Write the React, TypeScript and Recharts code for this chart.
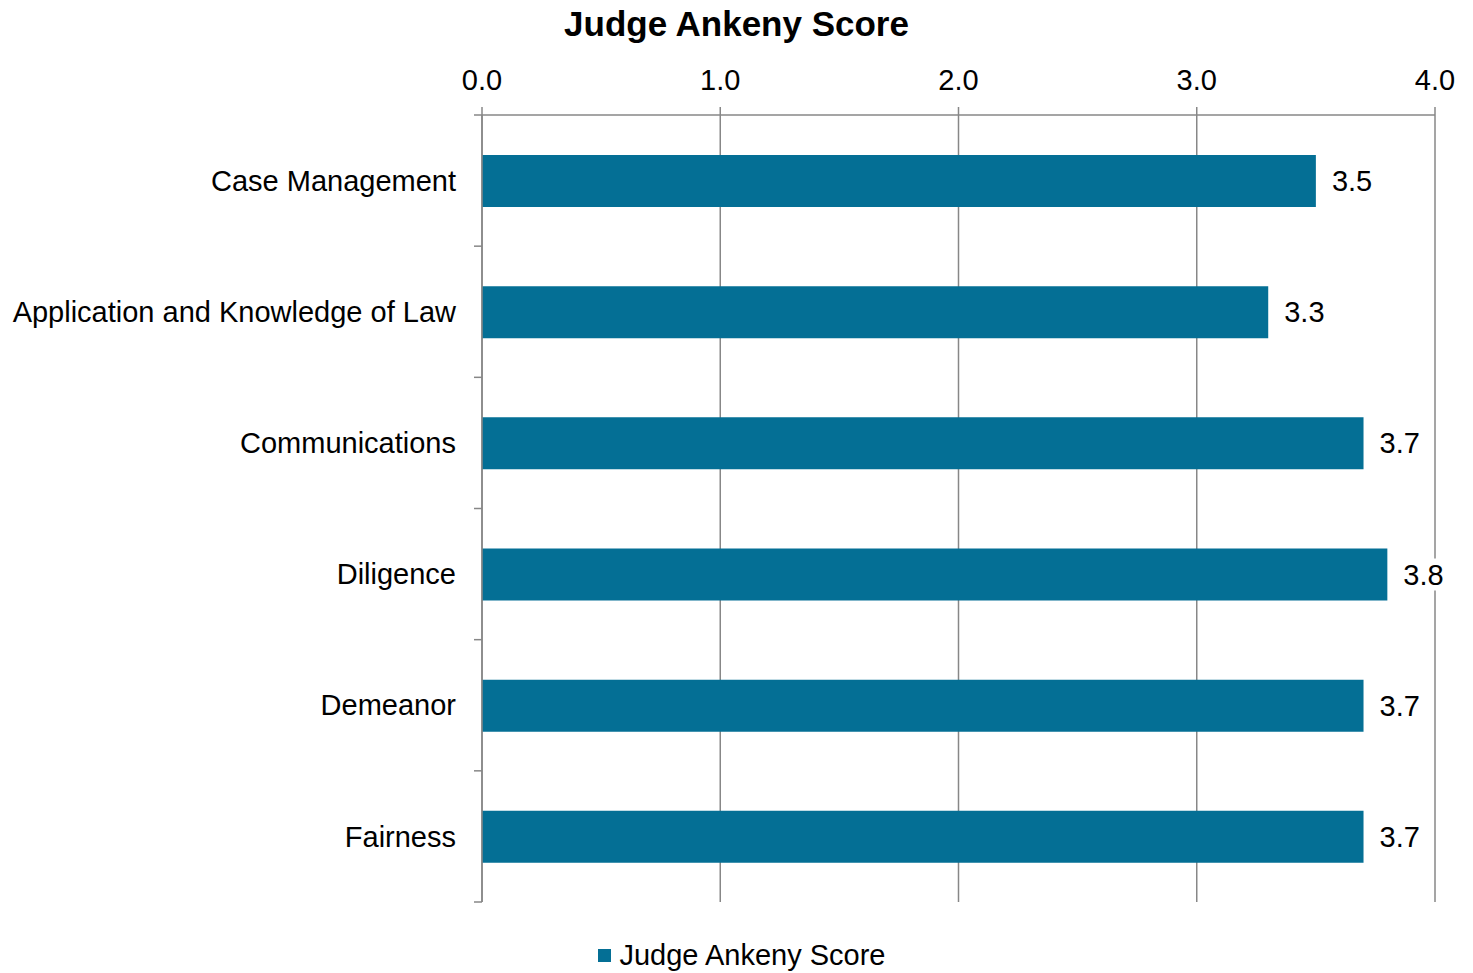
import {
  BarChart,
  Bar,
  XAxis,
  YAxis,
  CartesianGrid,
  Legend,
  LabelList,
} from 'recharts'

const categories = [
  'Case Management',
  'Application and Knowledge of Law',
  'Communications',
  'Diligence',
  'Demeanor',
  'Fairness',
]
const scores = [3.5, 3.3, 3.7, 3.8, 3.7, 3.7]
const xTicks = [0, 1, 2, 3, 4]

const seriesName = 'Judge Ankeny Score'
const font = '"Liberation Sans", Arial, sans-serif'
const gridColor = '#878787'
const barColor = '#046f95'
const fontSize = 29
const labelGap = 26
const tickLen = 8

const data = categories.map((name, i) => ({ name, score: scores[i] }))

function ValueLabel(props: any) {
  const { x, y, width, height, value } = props
  const text = Number(value).toFixed(1)
  const tx = x + width + 16
  const ty = y + height / 2
  return (
    <g>
      <rect x={tx - 3} y={ty - 16} width={46} height={32} fill="#fff" />
      <text
        x={tx}
        y={ty}
        dy="0.35em"
        fontSize={fontSize}
        fontFamily={font}
        fill="#000"
      >
        {text}
      </text>
    </g>
  )
}

// category label plus the small tick marks between categories
function CategoryTick(props: any) {
  const { x, y, payload, index } = props
  const axisX = x + labelGap
  const half = payload.offset || 0
  const last = index === categories.length - 1
  return (
    <g>
      <line
        x1={axisX - tickLen}
        x2={axisX}
        y1={y - half}
        y2={y - half}
        stroke={gridColor}
        strokeWidth={1.5}
      />
      {last && (
        <line
          x1={axisX - tickLen}
          x2={axisX}
          y1={y + half}
          y2={y + half}
          stroke={gridColor}
          strokeWidth={1.5}
        />
      )}
      <text
        x={x}
        y={y}
        dy="0.35em"
        textAnchor="end"
        fontSize={fontSize}
        fontFamily={font}
        fill="#000"
      >
        {payload.value}
      </text>
    </g>
  )
}

function LegendBox() {
  return (
    <div
      style={{
        display: 'flex',
        justifyContent: 'center',
        alignItems: 'center',
        paddingLeft: 11,
        fontFamily: font,
        fontSize,
        color: '#000',
        lineHeight: '36px',
      }}
    >
      <span
        style={{
          display: 'inline-block',
          width: 13,
          height: 13,
          background: barColor,
          marginRight: 8,
        }}
      />
      <span>{seriesName}</span>
    </div>
  )
}

export default function App() {
  return (
    <div
      style={{
        position: 'absolute',
        left: 0,
        top: 0,
        width: 1473,
        height: 973,
        background: '#fff',
        fontFamily: font,
      }}
    >
      <div
        style={{
          position: 'absolute',
          top: 3,
          left: 0,
          width: 1473,
          textAlign: 'center',
          fontSize: 35,
          fontWeight: 'bold',
          lineHeight: '42px',
        }}
      >
        {seriesName}
      </div>
      <BarChart
        width={1473}
        height={973}
        data={data}
        layout="vertical"
        margin={{ top: 60, right: 38, bottom: 35, left: 0 }}
      >
        <CartesianGrid horizontal={false} stroke={gridColor} strokeWidth={1.5} />
        <XAxis
          type="number"
          orientation="top"
          domain={[0, 4]}
          ticks={xTicks}
          tickFormatter={(v: number) => v.toFixed(1)}
          height={55}
          tickSize={tickLen}
          tickMargin={17}
          tick={{ fill: '#000', fontSize, fontFamily: font }}
          axisLine={{ stroke: gridColor, strokeWidth: 1.5 }}
          tickLine={{ stroke: gridColor, strokeWidth: 1.5 }}
        />
        <YAxis
          type="category"
          dataKey="name"
          width={482}
          tickLine={false}
          axisLine={{ stroke: gridColor, strokeWidth: 1.5 }}
          tickSize={0}
          tickMargin={labelGap}
          tick={<CategoryTick />}
        />
        <Legend
          verticalAlign="bottom"
          wrapperStyle={{ left: 0, width: 1473, bottom: 0 }}
          content={<LegendBox />}
        />
        <Bar
          dataKey="score"
          name={seriesName}
          fill={barColor}
          barSize={52}
          isAnimationActive={false}
        >
          <LabelList dataKey="score" content={<ValueLabel />} />
        </Bar>
      </BarChart>
    </div>
  )
}
